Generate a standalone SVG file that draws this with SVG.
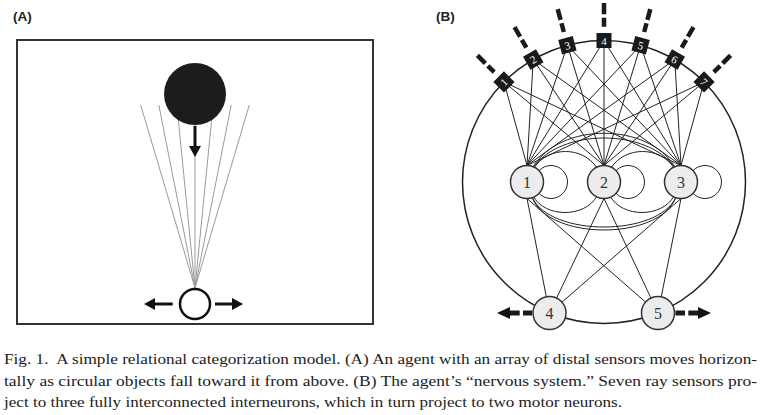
<svg xmlns="http://www.w3.org/2000/svg" width="770" height="415" viewBox="0 0 770 415">
<style>
.lbl{font-family:"Liberation Sans",Arial,sans-serif;font-weight:bold;font-size:13.5px;fill:#222}
.ray{stroke:#9a9a9a;stroke-width:1}
.con{stroke:#222;stroke-width:1;fill:none}
.node{fill:#ececec;stroke:#333;stroke-width:1.5}
.ntxt{font-family:"Liberation Serif","Times New Roman",serif;font-size:16px;fill:#333;text-anchor:middle}
.sq{fill:#1a1a1a}
.stxt{font-family:"Liberation Serif","Times New Roman",serif;font-size:11px;fill:#fff;text-anchor:middle}
.dash{stroke:#1a1a1a;stroke-width:4.5;stroke-dasharray:9 3.5 12 10;fill:none}
.cap{font-family:"Liberation Serif","Times New Roman",serif;font-size:14.5px;fill:#222}
.arr{fill:#111}
</style>

<!-- Panel A -->
<text class="lbl" x="13" y="21">(A)</text>
<g id="panelA">
  <rect x="17" y="40" width="356" height="284" fill="#fff" stroke="#333" stroke-width="2"/>
  <g id="rays">
    <line class="ray" x1="195" y1="288" x2="140.7" y2="105"/>
    <line class="ray" x1="195" y1="288" x2="158.8" y2="105"/>
    <line class="ray" x1="195" y1="288" x2="176.9" y2="105"/>
    <line class="ray" x1="195" y1="288" x2="195" y2="105"/>
    <line class="ray" x1="195" y1="288" x2="213.1" y2="105"/>
    <line class="ray" x1="195" y1="288" x2="231.2" y2="105"/>
    <line class="ray" x1="195" y1="288" x2="249.3" y2="105"/>
  </g>
  <g id="object"><circle cx="195" cy="94" r="31" fill="#1c1c1c"/></g>
  <g id="fall-arrow">
    <line x1="195" y1="126" x2="195" y2="148" stroke="#111" stroke-width="3"/>
    <polygon class="arr" points="189,146 201,146 195,157"/>
  </g>
  <g id="agent"><circle cx="195" cy="304" r="15" fill="#fff" stroke="#111" stroke-width="2.5"/></g>
  <g id="move-arrows">
    <line x1="172.7" y1="304" x2="153" y2="304" stroke="#111" stroke-width="3"/>
    <polygon class="arr" points="155,298 155,310 144,304"/>
    <line x1="215" y1="304" x2="234" y2="304" stroke="#111" stroke-width="3"/>
    <polygon class="arr" points="232,298 232,310 243,304"/>
  </g>
</g>

<!-- Panel B -->
<text class="lbl" x="436" y="21">(B)</text>
<g id="body"><circle cx="604" cy="182" r="141.5" fill="none" stroke="#222" stroke-width="1.5"/></g>

<g id="connectors">
  <!-- sensors to interneurons -->
  <line class="con" x1="503.95" y1="81.95" x2="527" y2="165.5"/>
  <line class="con" x1="503.95" y1="81.95" x2="604" y2="165.5"/>
  <line class="con" x1="503.95" y1="81.95" x2="681" y2="165.5"/>
  <line class="con" x1="533.25" y1="59.5" x2="527" y2="165.5"/>
  <line class="con" x1="533.25" y1="59.5" x2="604" y2="165.5"/>
  <line class="con" x1="533.25" y1="59.5" x2="681" y2="165.5"/>
  <line class="con" x1="567.4" y1="45.3" x2="527" y2="165.5"/>
  <line class="con" x1="567.4" y1="45.3" x2="604" y2="165.5"/>
  <line class="con" x1="567.4" y1="45.3" x2="681" y2="165.5"/>
  <line class="con" x1="604" y1="40.5" x2="527" y2="165.5"/>
  <line class="con" x1="604" y1="40.5" x2="604" y2="165.5"/>
  <line class="con" x1="604" y1="40.5" x2="681" y2="165.5"/>
  <line class="con" x1="640.6" y1="45.3" x2="527" y2="165.5"/>
  <line class="con" x1="640.6" y1="45.3" x2="604" y2="165.5"/>
  <line class="con" x1="640.6" y1="45.3" x2="681" y2="165.5"/>
  <line class="con" x1="674.75" y1="59.5" x2="527" y2="165.5"/>
  <line class="con" x1="674.75" y1="59.5" x2="604" y2="165.5"/>
  <line class="con" x1="674.75" y1="59.5" x2="681" y2="165.5"/>
  <line class="con" x1="704.05" y1="81.95" x2="527" y2="165.5"/>
  <line class="con" x1="704.05" y1="81.95" x2="604" y2="165.5"/>
  <line class="con" x1="704.05" y1="81.95" x2="681" y2="165.5"/>
  <!-- interneuron interconnections -->
  <path class="con" d="M534,168 C548,146 583,146 597,168"/>
  <path class="con" d="M611,168 C625,146 660,146 674,168"/>
  <path class="con" d="M533,167 C560,122 648,122 675,167"/>
  <path class="con" d="M533,168 C560,128 648,128 675,168"/>
  <path class="con" d="M533,196 C545,218 585,218 597,196"/>
  <path class="con" d="M610,196 C622,218 662,218 674,196"/>
  <path class="con" d="M532,197 C550,237 658,237 676,197"/>
  <path class="con" d="M532,197 C548,241 660,241 676,197"/>
  <!-- self loops -->
  <circle class="con" cx="551" cy="182" r="16.5"/>
  <circle class="con" cx="628" cy="182" r="16.5"/>
  <circle class="con" cx="705" cy="182" r="16.5"/>
  <!-- interneurons to motor neurons -->
  <line class="con" x1="527" y1="198.5" x2="549.5" y2="313"/>
  <line class="con" x1="527" y1="198.5" x2="658" y2="313"/>
  <line class="con" x1="604" y1="198.5" x2="549.5" y2="313"/>
  <line class="con" x1="604" y1="198.5" x2="658" y2="313"/>
  <line class="con" x1="681" y1="198.5" x2="549.5" y2="313"/>
  <line class="con" x1="681" y1="198.5" x2="658" y2="313"/>
</g>

<g id="n1"><circle class="node" cx="527" cy="182" r="16.5"/><text class="ntxt" x="527" y="187.5">1</text></g>
<g id="n2"><circle class="node" cx="604" cy="182" r="16.5"/><text class="ntxt" x="604" y="187.5">2</text></g>
<g id="n3"><circle class="node" cx="681" cy="182" r="16.5"/><text class="ntxt" x="681" y="187.5">3</text></g>

<g id="m4">
  <line x1="532" y1="313" x2="523" y2="313" stroke="#1a1a1a" stroke-width="5"/>
  <line x1="519.7" y1="313" x2="508" y2="313" stroke="#1a1a1a" stroke-width="5"/>
  <polygon class="arr" points="510,307 510,319 497,313"/>
  <circle class="node" cx="549.5" cy="313" r="16.5"/><text class="ntxt" x="549.5" y="318.5">4</text>
</g>
<g id="m5">
  <line x1="675.5" y1="313" x2="685" y2="313" stroke="#1a1a1a" stroke-width="5"/>
  <line x1="688.3" y1="313" x2="700" y2="313" stroke="#1a1a1a" stroke-width="5"/>
  <polygon class="arr" points="698,307 698,319 711,313"/>
  <circle class="node" cx="658" cy="313" r="16.5"/><text class="ntxt" x="658" y="318.5">5</text>
</g>

<g id="s1" transform="translate(503.95,81.95) rotate(-45)"><path class="dash" d="M0,-13.8V-37.5"/><rect class="sq" x="-7.5" y="-7.5" width="15" height="15"/><text class="stxt" x="0" y="4">1</text></g>
<g id="s2" transform="translate(533.25,59.5) rotate(-30)"><path class="dash" d="M0,-13.8V-37.5"/><rect class="sq" x="-7.5" y="-7.5" width="15" height="15"/><text class="stxt" x="0" y="4">2</text></g>
<g id="s3" transform="translate(567.4,45.3) rotate(-15)"><path class="dash" d="M0,-13.8V-37.5"/><rect class="sq" x="-7.5" y="-7.5" width="15" height="15"/><text class="stxt" x="0" y="4">3</text></g>
<g id="s4" transform="translate(604,40.5)"><path class="dash" d="M0,-13.8V-37.5"/><rect class="sq" x="-7.5" y="-7.5" width="15" height="15"/><text class="stxt" x="0" y="4">4</text></g>
<g id="s5" transform="translate(640.6,45.3) rotate(15)"><path class="dash" d="M0,-13.8V-37.5"/><rect class="sq" x="-7.5" y="-7.5" width="15" height="15"/><text class="stxt" x="0" y="4">5</text></g>
<g id="s6" transform="translate(674.75,59.5) rotate(30)"><path class="dash" d="M0,-13.8V-37.5"/><rect class="sq" x="-7.5" y="-7.5" width="15" height="15"/><text class="stxt" x="0" y="4">6</text></g>
<g id="s7" transform="translate(704.05,81.95) rotate(45)"><path class="dash" d="M0,-13.8V-37.5"/><rect class="sq" x="-7.5" y="-7.5" width="15" height="15"/><text class="stxt" x="0" y="4">7</text></g>

<g id="caption">
  <text class="cap" x="4" y="364" xml:space="preserve" textLength="753" lengthAdjust="spacingAndGlyphs">Fig. 1.  A simple relational categorization model. (A) An agent with an array of distal sensors moves horizon-</text>
  <text class="cap" x="4" y="385.5" textLength="753" lengthAdjust="spacingAndGlyphs">tally as circular objects fall toward it from above. (B) The agent’s “nervous system.” Seven ray sensors pro-</text>
  <text class="cap" x="4" y="407" textLength="618" lengthAdjust="spacingAndGlyphs">ject to three fully interconnected interneurons, which in turn project to two motor neurons.</text>
</g>
</svg>
